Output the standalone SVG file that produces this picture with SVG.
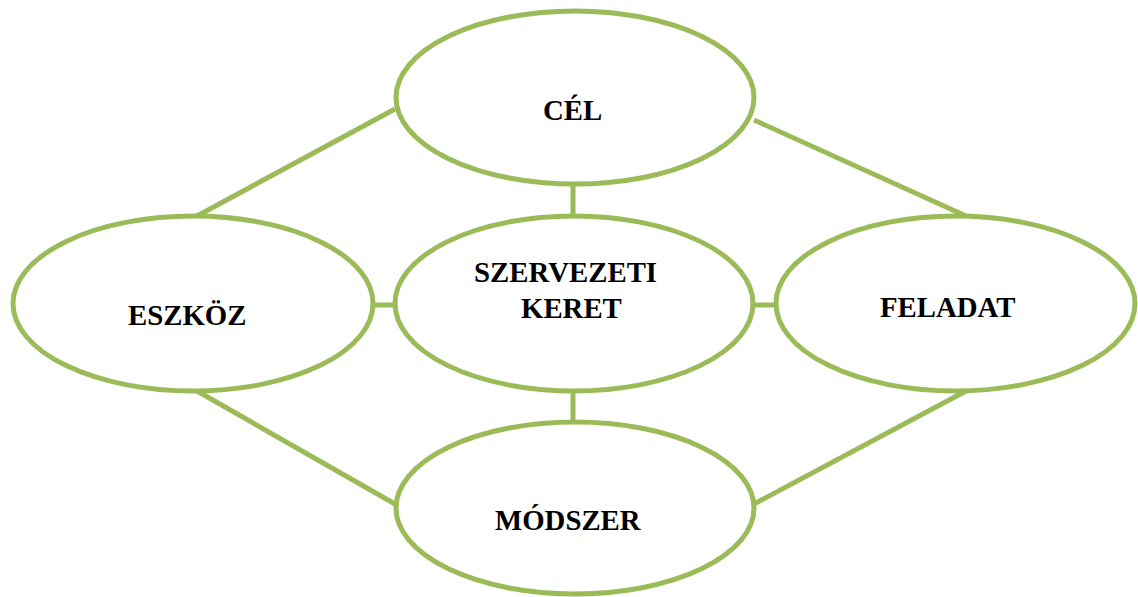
<svg xmlns="http://www.w3.org/2000/svg" width="1138" height="597" viewBox="0 0 1138 597">
<style>
.n{fill:#fff;stroke:#9BBB59;stroke-width:5}
.c{stroke:#9BBB59;stroke-width:5;fill:none}
.t{font-family:"Liberation Serif","Times New Roman",serif;font-weight:bold;font-size:28.8px;fill:#000}
</style>
<rect width="1138" height="597" fill="#fff"/>
<g id="connectors">
<line class="c" x1="395" y1="109" x2="197" y2="216"/>
<line class="c" x1="754" y1="120" x2="966" y2="216"/>
<line class="c" x1="197" y1="391" x2="395" y2="504"/>
<line class="c" x1="966" y1="391" x2="754" y2="504"/>
<line class="c" x1="573" y1="184" x2="573" y2="216"/>
<line class="c" x1="573" y1="391" x2="573" y2="422"/>
<line class="c" x1="373" y1="305" x2="396" y2="305"/>
<line class="c" x1="753" y1="305" x2="776" y2="305"/>
</g>
<g id="cel">
<ellipse class="n" cx="575" cy="97.5" rx="179" ry="86.5"/>
<text class="t" x="543" y="120">CÉL</text>
</g>
<g id="eszkoz">
<ellipse class="n" cx="193" cy="303.5" rx="180" ry="87.5"/>
<text class="t" x="128" y="325">ESZKÖZ</text>
</g>
<g id="szervezeti-keret">
<ellipse class="n" cx="574" cy="303.5" rx="179" ry="87.5"/>
<text class="t" x="474" y="282">SZERVEZETI</text>
<text class="t" x="521" y="318">KERET</text>
</g>
<g id="feladat">
<ellipse class="n" cx="955.5" cy="303.5" rx="179.5" ry="87.5"/>
<text class="t" x="880" y="317">FELADAT</text>
</g>
<g id="modszer">
<ellipse class="n" cx="575" cy="508" rx="179" ry="86"/>
<text class="t" x="495" y="530">MÓDSZER</text>
</g>
</svg>
